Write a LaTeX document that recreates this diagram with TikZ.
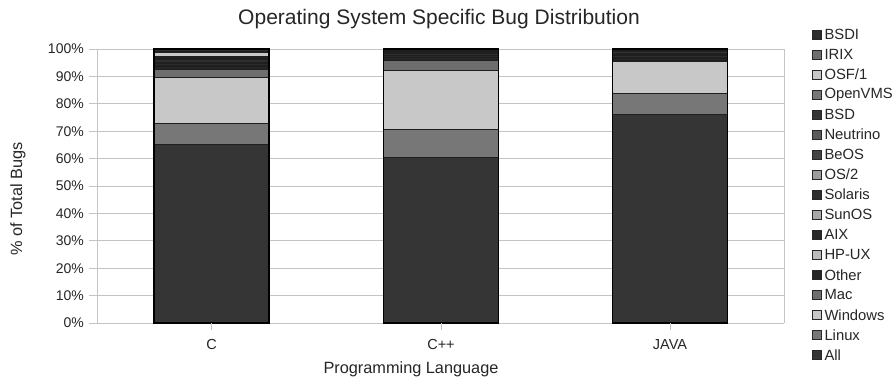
\documentclass[tikz,border=0pt]{standalone}
\usepackage{fontspec}
\setmainfont{Liberation Sans}
\usetikzlibrary{positioning}
\definecolor{inkgray}{HTML}{262626}
\definecolor{gridgray}{HTML}{C4C4C4}
% grey shades of the series
\definecolor{sAll}{HTML}{353535}
\definecolor{sLinux}{HTML}{777777}
\definecolor{sWindows}{HTML}{C8C8C8}
\definecolor{sMac}{HTML}{6E6E6E}
\definecolor{sOther}{HTML}{252525}
\definecolor{sHPUX}{HTML}{BBBBBB}
\definecolor{sAIX}{HTML}{2A2A2A}
\definecolor{sSunOS}{HTML}{A8A8A8}
\definecolor{sSolaris}{HTML}{2E2E2E}
\definecolor{sOStwo}{HTML}{9C9C9C}
\definecolor{sBeOS}{HTML}{444444}
\definecolor{sNeutrino}{HTML}{5A5A5A}
\definecolor{sBSD}{HTML}{353535}
\definecolor{sOpenVMS}{HTML}{777777}
\definecolor{sOSF}{HTML}{C8C8C8}
\definecolor{sIRIX}{HTML}{6E6E6E}
\definecolor{sBSDI}{HTML}{2C2C2C}
\tikzset{
  gridline/.style={draw=gridgray, line width=0.9pt},
  segment/.style={draw=black!88, line width=0.7pt},
  barframe/.style={draw=black, line width=1.1pt},
  ticklabel/.style={anchor=east, inner sep=0pt, text=inkgray,
                    font=\fontsize{14}{14}\selectfont},
  catlabel/.style={inner sep=0pt, text=inkgray, font=\fontsize{14.5}{14.5}\selectfont},
  axistitle/.style={inner sep=0pt, text=inkgray, font=\fontsize{16.3}{16.3}\selectfont},
  keybox/.style={draw=black!85, line width=0.6pt, minimum size=9pt, inner sep=0pt},
  keylabel/.style={anchor=west, inner sep=0pt, text=inkgray,
                   font=\fontsize{14.8}{14.8}\selectfont}}
% one stacked bar: #1 = centre x, #2 = list of value/colour from the bottom
\newcommand\stackbar[2]{%
  \xdef\runsum{0}%
  \foreach \val/\col in {#2} {
    \pgfmathsetmacro\nextsum{\runsum+\val}
    \draw[segment, fill=\col] (#1-57.5,\runsum) rectangle (#1+57.5,\nextsum);
    \xdef\runsum{\nextsum}
  }
  \draw[barframe] (#1-57.5,0) rectangle (#1+57.5,100);
}

\begin{document}
\begin{tikzpicture}[x=1pt, y=-1pt]
  \useasboundingbox[fill=white] (0,0) rectangle (893,383);

  \node[text=inkgray, inner sep=0pt, font=\fontsize{21}{21}\selectfont]
    (title) at (439,19) {Operating System Specific Bug Distribution};

  % plot area, y in percent
  \begin{scope}[shift={(0,323)}, yscale=-2.74]
    \foreach \p in {0,10,...,100} {
      \draw[gridline] (89,\p) -- (784,\p);
      \node[ticklabel] (ytick\p) at (84,\p) {\p\%};
    }
    \draw[gridline] (97,0) -- (97,100);
    \draw[gridline] (784,0) -- (784,100);

    \stackbar{211.5}{65.2/sAll, 7.6/sLinux, 16.7/sWindows, 3.0/sMac,
      1.2/sOther, 0.3/sHPUX, 0.9/sAIX, 0.4/sSunOS, 0.8/sSolaris, 0.2/sOStwo,
      0.4/sBeOS, 0.3/sNeutrino, 0.4/sBSD, 0.1/sOpenVMS, 1.3/sOSF, 0.2/sIRIX, 1.0/sBSDI}
    \stackbar{441}{60.5/sAll, 10.0/sLinux, 21.8/sWindows, 3.6/sMac,
      1.0/sOther, 0.2/sHPUX, 0.5/sAIX, 0.2/sSunOS, 0.5/sSolaris, 0.1/sOStwo,
      0.3/sBeOS, 0.2/sNeutrino, 0.3/sBSD, 0.1/sOpenVMS, 0.3/sOSF, 0.1/sIRIX, 0.3/sBSDI}
    \stackbar{670}{76.0/sAll, 7.8/sLinux, 11.6/sWindows, 0.3/sMac,
      0.8/sOther, 0.1/sHPUX, 0.3/sAIX, 0.2/sSunOS, 0.6/sSolaris, 0.1/sOStwo,
      0.3/sBeOS, 0.2/sNeutrino, 1.0/sBSD, 0.1/sOpenVMS, 0.1/sOSF, 0.1/sIRIX, 0.4/sBSDI}
  \end{scope}

  % categories
  \foreach \cx/\lang [count=\i] in {211.5/C, 441/C++, 670/JAVA} {
    \draw[gridline] (\cx,323) -- (\cx,330);
    \node[catlabel] (cat\i) at (\cx,345) {\lang};
  }

  \node[axistitle] (xtitle) at (411,369) {Programming Language};
  \node[axistitle, rotate=90] (ytitle) at (18,199) {\% of Total Bugs};

  % legend
  \foreach \name/\col [count=\i from 0] in {BSDI/sBSDI, IRIX/sIRIX, {OSF/1}/sOSF,
      OpenVMS/sOpenVMS, BSD/sBSD, Neutrino/sNeutrino, BeOS/sBeOS, {OS/2}/sOStwo,
      Solaris/sSolaris, SunOS/sSunOS, AIX/sAIX, HP-UX/sHPUX, Other/sOther,
      Mac/sMac, Windows/sWindows, Linux/sLinux, All/sAll} {
    \node[keybox, fill=\col] (key\i) at (816.5,34.3+20.04*\i) {};
    \node[keylabel, right=3pt of key\i] (keytext\i) {\name};
  }
\end{tikzpicture}
\end{document}
